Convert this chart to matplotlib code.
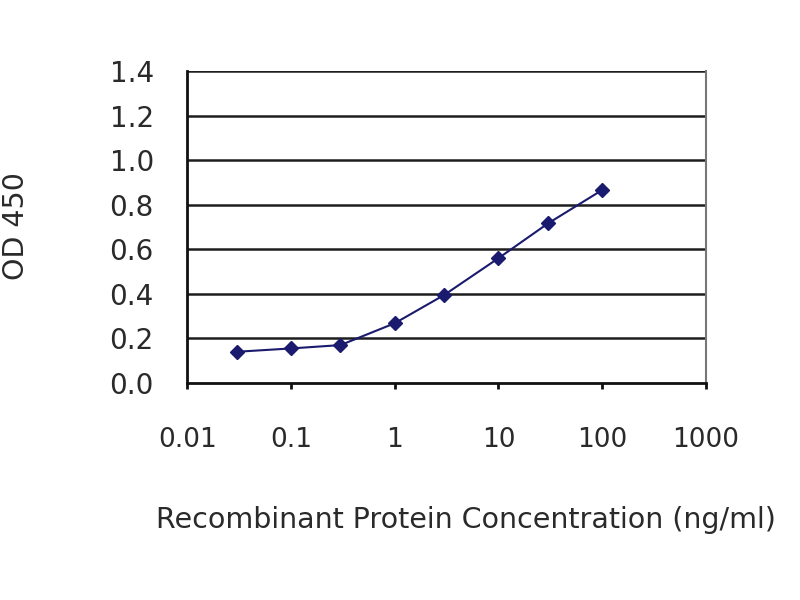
import matplotlib
matplotlib.use("Agg")
import matplotlib.pyplot as plt
from matplotlib.ticker import FixedLocator, FixedFormatter, NullLocator

conc = [0.03, 0.1, 0.3, 1, 3, 10, 30, 100]
od = [0.14, 0.155, 0.17, 0.268, 0.395, 0.56, 0.716, 0.866]
xticks = [0.01, 0.1, 1, 10, 100, 1000]
xticklabels = ["0.01", "0.1", "1", "10", "100", "1000"]
yticks = [0.0, 0.2, 0.4, 0.6, 0.8, 1.0, 1.2, 1.4]
yticklabels = ["0.0", "0.2", "0.4", "0.6", "0.8", "1.0", "1.2", "1.4"]

plt.rcParams['font.family'] = ['DejaVu Sans']

fig = plt.figure(figsize=(8, 6), dpi=100)
ax = fig.add_axes([0.234, 0.3617, 0.6485, 0.52])

ax.set_xscale('log')
ax.set_xlim(0.01, 1000)
ax.set_ylim(0, 1.4)

for y in yticks[1:]:
    ax.axhline(y, color='#1e1e1e', lw=1.8, zorder=1)

ax.plot(conc, od, color='#1a1a6e', lw=1.5, marker='D', markersize=7,
        markerfacecolor='#1a1a6e', markeredgecolor='#1a1a6e', zorder=3)

ax.xaxis.set_major_locator(FixedLocator(xticks))
ax.xaxis.set_major_formatter(FixedFormatter(xticklabels))
ax.xaxis.set_minor_locator(NullLocator())
ax.yaxis.set_major_locator(FixedLocator(yticks))
ax.yaxis.set_major_formatter(FixedFormatter(yticklabels))

ax.tick_params(axis='x', direction='out', length=4, width=2, pad=28, labelsize=19, colors='#111')
ax.tick_params(axis='y', length=0, pad=36 - 12, labelsize=20, colors='#111')
for lbl in ax.get_yticklabels() + ax.get_xticklabels():
    lbl.set_color('#2a2a2a')

for s in ['left', 'bottom']:
    ax.spines[s].set_color('#111')
    ax.spines[s].set_linewidth(2)
ax.spines['top'].set_visible(False)
ax.spines['right'].set_color('#777')
ax.spines['right'].set_linewidth(1.5)

fig.text(0.582, 0.133, "Recombinant Protein Concentration (ng/ml)", ha='center', va='center',
         fontsize=20.5, color='#2a2a2a')
fig.text(0.02, 0.623, "OD 450", rotation=90, ha='center', va='center', fontsize=20.5, color='#2a2a2a')

fig.savefig("out.png", dpi=100)
